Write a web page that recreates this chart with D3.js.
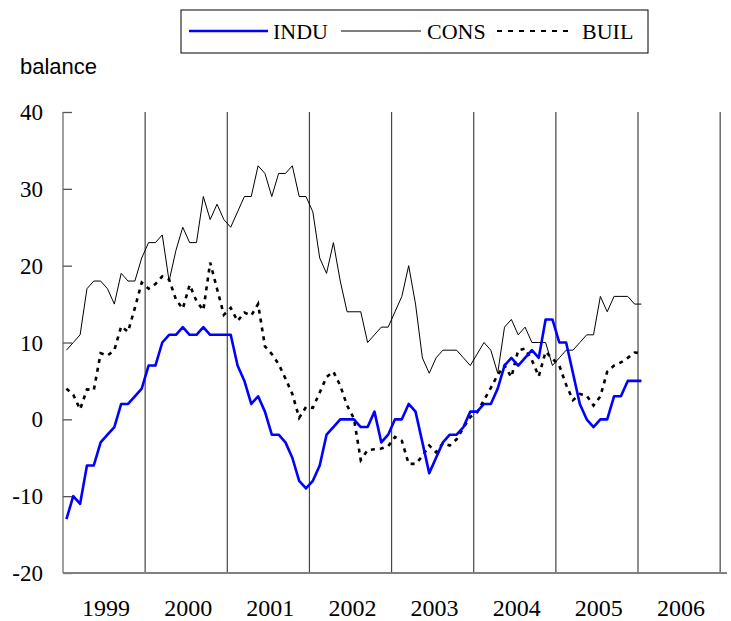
<!DOCTYPE html>
<html>
<head>
<meta charset="utf-8">
<script src="https://cdn.jsdelivr.net/npm/d3@7"></script>
<style>
  body { margin: 0; background: #fff; }
</style>
</head>
<body>
<div id="chart"></div>
<script>
// balances, monthly from Jan 1999
const years = ["1999", "2000", "2001", "2002", "2003", "2004", "2005", "2006"];
const yTicks = [-20, -10, 0, 10, 20, 30, 40];

const indu = [-13, -10, -11, -6, -6, -3, -2, -1, 2, 2, 3, 4,
  7, 7, 10, 11, 11, 12, 11, 11, 12, 11, 11, 11,
  11, 7, 5, 2, 3, 1, -2, -2, -3, -5, -8, -9,
  -8, -6, -2, -1, 0, 0, 0, -1, -1, 1, -3, -2,
  0, 0, 2, 1, -3, -7, -5, -3, -2, -2, -1, 1,
  1, 2, 2, 4, 7, 8, 7, 8, 9, 8, 13, 13,
  10, 10, 6, 2, 0, -1, 0, 0, 3, 3, 5, 5,
  5];

const cons = [9, 10, 11, 17, 18, 18, 17, 15, 19, 18, 18, 21,
  23, 23, 24, 18, 22, 25, 23, 23, 29, 26, 28, 26,
  25, 27, 29, 29, 33, 32, 29, 32, 32, 33, 29, 29,
  27, 21, 19, 23, 18, 14, 14, 14, 10, 11, 12, 12,
  14, 16, 20, 15, 8, 6, 8, 9, 9, 9, 8, 7,
  8.5, 10, 9, 6, 12, 13, 11, 12, 10, 10, 10, 7,
  8, 9, 9, 10, 11, 11, 16, 14, 16, 16, 16, 15,
  15];

const buil = [4, 3.2, 1.3, 3.9, 3.8, 8.6, 8.3, 9, 12.1, 11.4, 14.5, 17.8,
  17, 17.6, 18.6, 18.2, 15.6, 14.4, 17.5, 15.4, 14.2, 20.4, 17, 13.6,
  14.5, 12.8, 13.9, 13.5, 15, 9.5, 8.5, 7.2, 5.3, 3.3, 0.2, 1.6,
  1.5, 3.5, 5.5, 6.2, 4.4, 1.8, 0.1, -5.3, -4, -3.9, -3.8, -3.5,
  -2.3, -2.8, -5.8, -5.8, -4.8, -3.4, -4.3, -3.1, -3.4, -2.6, -1.1, 0.3,
  0.9, 2.5, 4.1, 5.8, 7, 5.5, 9, 9.2, 7.7, 5.6, 8.8, 7.9,
  7, 4.5, 2.5, 3.3, 3.1, 1.8, 3, 6.2, 7, 7.4, 8, 8.7,
  8.6];

const width = 731, height = 621;
const serif = "'Liberation Serif', 'Times New Roman', serif";

const svg = d3.select("#chart").append("svg")
  .attr("width", width)
  .attr("height", height);

// category slots: Jan 1999 .. Jan 2007
const fmt = d3.timeFormat("%Y-%m");
const slots = d3.timeMonth.range(new Date(1999, 0, 1), new Date(2007, 1, 1)).map(fmt);
const months = slots.slice(0, indu.length);

const x = d3.scaleBand().domain(slots).range([63, 727]);
const y = d3.scaleLinear().domain([-20, 40]).range([573, 112]);
const cx = m => x(m) + x.bandwidth() / 2;

// year separators
svg.selectAll(".sep")
  .data(years)
  .join("line")
  .attr("class", "sep")
  .attr("x1", d => x((+d + 1) + "-01"))
  .attr("x2", d => x((+d + 1) + "-01"))
  .attr("y1", y(40))
  .attr("y2", y(-20))
  .attr("stroke", "#444")
  .attr("stroke-width", 1.2);

// y axis
const yAxis = svg.append("g")
  .attr("transform", "translate(63,0)")
  .call(d3.axisRight(y).tickValues(yTicks).tickSize(9).tickFormat(""));
yAxis.select(".domain").attr("stroke", "#808080").attr("stroke-width", 1.5)
  .attr("d", `M0,${y(40)}V${y(-20)}`);
yAxis.selectAll(".tick line").attr("stroke", "#555").attr("stroke-width", 1.3);

svg.selectAll(".ylab")
  .data(yTicks)
  .join("text")
  .attr("class", "ylab")
  .attr("x", 43)
  .attr("y", d => y(d) + 8)
  .attr("text-anchor", "end")
  .style("font-family", serif)
  .style("font-size", "23px")
  .text(d => d);

// x axis
svg.append("line")
  .attr("x1", 63).attr("x2", 727)
  .attr("y1", y(-20)).attr("y2", y(-20))
  .attr("stroke", "#808080")
  .attr("stroke-width", 2);

svg.selectAll(".xlab")
  .data(years)
  .join("text")
  .attr("class", "xlab")
  .attr("x", d => cx(d + "-07") - 1.5)
  .attr("y", 616)
  .attr("text-anchor", "middle")
  .style("font-family", serif)
  .style("font-size", "24px")
  .text(d => d);

// series
const line = d3.line().x((d, i) => cx(months[i])).y(d => y(d));

svg.append("path").datum(cons)
  .attr("d", line).attr("fill", "none")
  .attr("stroke", "#000").attr("stroke-width", 1);

svg.append("path").datum(buil)
  .attr("d", line).attr("fill", "none")
  .attr("stroke", "#000").attr("stroke-width", 2.6)
  .attr("stroke-dasharray", "4,5");

svg.append("path").datum(indu)
  .attr("d", line).attr("fill", "none")
  .attr("stroke", "#0000ff").attr("stroke-width", 2.6)
  .attr("stroke-linejoin", "round");

// axis title
svg.append("text")
  .attr("x", 20).attr("y", 74)
  .style("font-family", "'Liberation Sans', Arial, sans-serif")
  .style("font-size", "22px")
  .text("balance");

// legend
const legend = svg.append("g");
legend.append("rect")
  .attr("x", 181).attr("y", 10).attr("width", 467).attr("height", 43)
  .attr("fill", "#fff").attr("stroke", "#000").attr("stroke-width", 1);

const items = [
  { name: "INDU", x0: 189, x1: 268, tx: 273, color: "#0000ff", w: 2.6, dash: null },
  { name: "CONS", x0: 341, x1: 421, tx: 427, color: "#000", w: 1, dash: null },
  { name: "BUIL", x0: 497, x1: 572, tx: 582, color: "#000", w: 2, dash: "5,6" }
];
items.forEach(it => {
  legend.append("line")
    .attr("x1", it.x0).attr("x2", it.x1).attr("y1", 31).attr("y2", 31)
    .attr("stroke", it.color).attr("stroke-width", it.w)
    .attr("stroke-dasharray", it.dash);
  legend.append("text")
    .attr("x", it.tx).attr("y", 39)
    .style("font-family", serif)
    .style("font-size", "22px")
    .text(it.name);
});
</script>
</body>
</html>
